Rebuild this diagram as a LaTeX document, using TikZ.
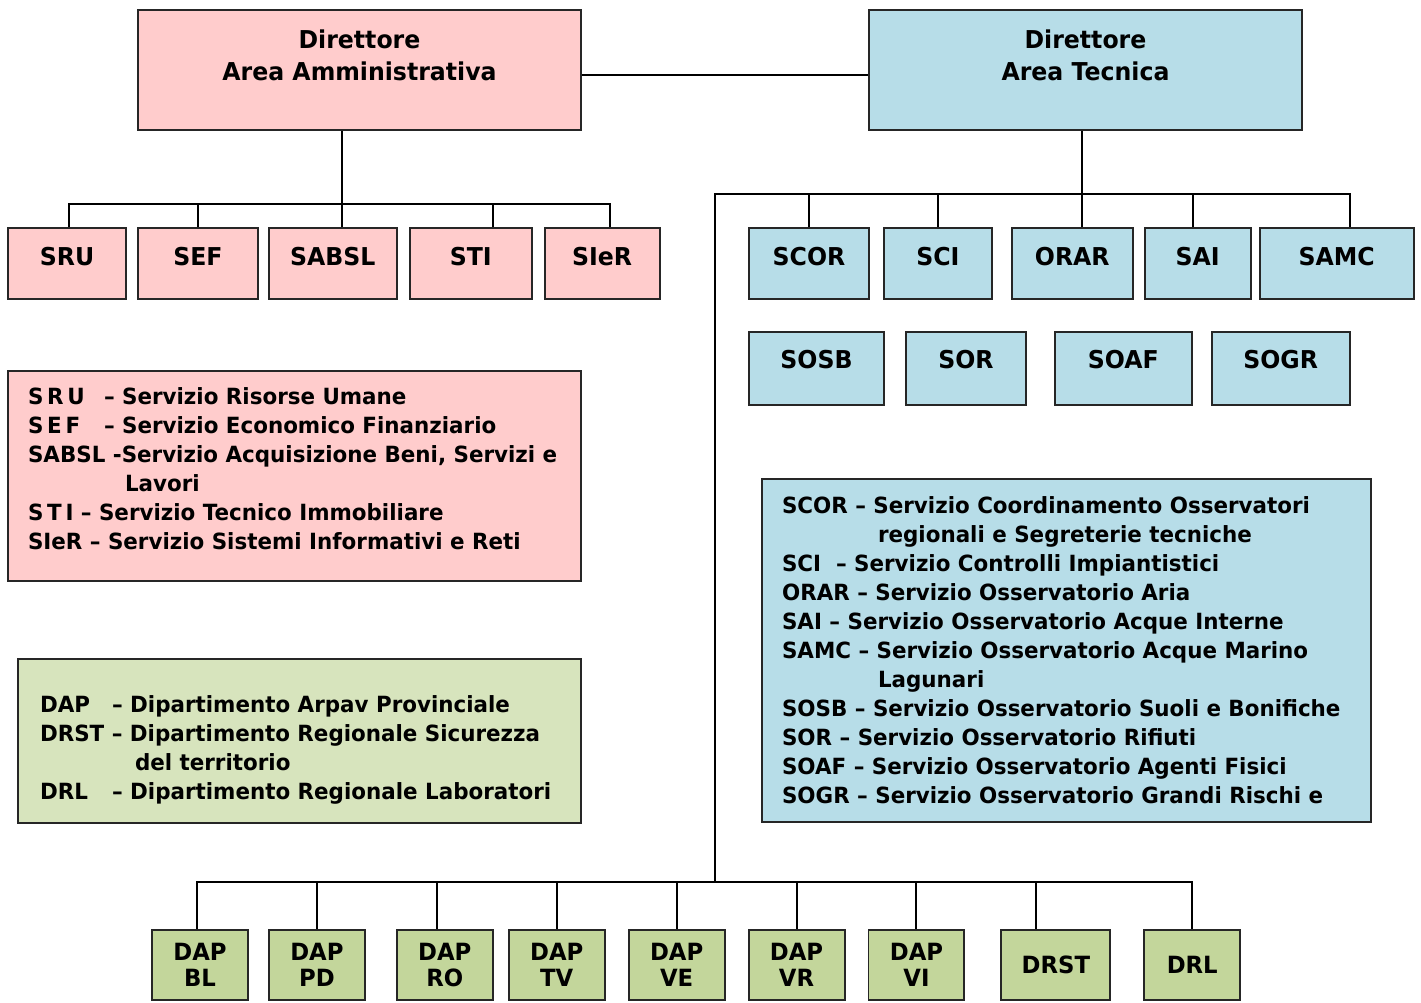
\documentclass[tikz,border=0pt]{standalone}
\usepackage{fontspec}
\setmainfont{DejaVu Sans}[FakeStretch=0.96]
\usetikzlibrary{positioning}

\definecolor{pinkfill}{RGB}{255,204,204}
\definecolor{bluefill}{RGB}{183,221,232}
\definecolor{greenfill}{RGB}{195,214,155}
\definecolor{greenlite}{RGB}{215,228,189}

\begin{document}
\begin{tikzpicture}[
  x=0.02cm, y=-0.02cm,
  every node/.style={font=\fontsize{14}{17}\selectfont\bfseries},
  box/.style={draw=black!85, line width=1.1pt, inner sep=0pt},
  unit/.style={box, minimum height=1.42cm, text height=0.4cm, text depth=0.34cm},
  unitlow/.style={box, minimum height=1.46cm, text height=0.4cm, text depth=0.42cm},
  dept/.style={box, fill=greenfill, minimum width=1.92cm, minimum height=1.4cm, align=center,
    font=\fontsize{13.5}{14.7}\selectfont\bfseries},
  legend/.style={box, align=left, font=\fontsize{12.7}{16.5}\selectfont\bfseries},
  dirlabel/.style={align=center, font=\fontsize{14}{18.1}\selectfont\bfseries},
  line width=1.1pt
]
\useasboundingbox (0,0) rectangle (1421,1002);

% Direttori
\node[box, fill=pinkfill, minimum width=8.86cm, minimum height=2.4cm] (dira) at (359.5,70) {};
\node[dirlabel] (diratxt) at (359.5,55) {Direttore\\Area Amministrativa};
\node[box, fill=bluefill, minimum width=8.66cm, minimum height=2.4cm] (dirt) at (1085.5,70) {};
\node[dirlabel] (dirttxt) at (1085.5,55) {Direttore\\Area Tecnica};

% Servizi area amministrativa
\node[unit, fill=pinkfill, minimum width=2.36cm] (sru) at (67,263.5) {SRU};
\node[unit, fill=pinkfill, minimum width=2.4cm, right=0.2cm of sru] (sef) {SEF};
\node[unit, fill=pinkfill, minimum width=2.56cm, right=0.18cm of sef] (sabsl) {SABSL};
\node[unit, fill=pinkfill, minimum width=2.44cm, right=0.22cm of sabsl] (sti) {STI};
\node[unit, fill=pinkfill, minimum width=2.3cm, right=0.22cm of sti] (sier) {SIeR};

% Servizi area tecnica
\node[unit, fill=bluefill, minimum width=2.4cm] (scor) at (809,263.5) {SCOR};
\node[unit, fill=bluefill, minimum width=2.16cm, right=0.26cm of scor] (sci) {SCI};
\node[unit, fill=bluefill, minimum width=2.42cm, right=0.36cm of sci] (orar) {ORAR};
\node[unit, fill=bluefill, minimum width=2.12cm, right=0.2cm of orar] (sai) {SAI};
\node[unit, fill=bluefill, minimum width=3.08cm, right=0.14cm of sai] (samc) {SAMC};

\node[unitlow, fill=bluefill, minimum width=2.7cm] (sosb) at (816.5,368.5) {SOSB};
\node[unitlow, fill=bluefill, minimum width=2.4cm, right=0.4cm of sosb] (sor) {SOR};
\node[unitlow, fill=bluefill, minimum width=2.74cm, right=0.54cm of sor] (soaf) {SOAF};
\node[unitlow, fill=bluefill, minimum width=2.76cm, right=0.36cm of soaf] (sogr) {SOGR};

% Legende
\node[legend, fill=pinkfill, minimum width=11.46cm, minimum height=4.2cm, text width=10.66cm] (legadm) at (294.5,476) {%
\makebox[1.52cm][l]{S\,R\,U}– Servizio Risorse Umane\\
\makebox[1.52cm][l]{S\,E\,F}– Servizio Economico Finanziario\\
SABSL -Servizio Acquisizione Beni, Servizi e\\
\hspace*{1.94cm}Lavori\\
S\,T\,I – Servizio Tecnico Immobiliare\\
SIeR – Servizio Sistemi Informativi e Reti\rule[-0.3cm]{0pt}{0pt}};

\node[legend, fill=greenlite, minimum width=11.26cm, minimum height=3.28cm, text width=10.38cm] (legdip) at (299.5,741) {%
\rule{0pt}{0.7cm}\makebox[1.44cm][l]{DAP}– Dipartimento Arpav Provinciale\\
DRST – Dipartimento Regionale Sicurezza\\
\hspace*{1.9cm}del territorio\\
\makebox[1.44cm][l]{DRL}– Dipartimento Regionale Laboratori};

\node[legend, fill=bluefill, minimum width=12.18cm, minimum height=6.86cm, text width=11.38cm] (legtec) at (1066.5,650.5) {%
SCOR – Servizio Coordinamento Osservatori\\
\hspace*{1.92cm}regionali e Segreterie tecniche\\
SCI\ \ – Servizio Controlli Impiantistici\\
ORAR – Servizio Osservatorio Aria\\
SAI – Servizio Osservatorio Acque Interne\\
SAMC – Servizio Osservatorio Acque Marino\\
\hspace*{1.92cm}Lagunari\\
SOSB – Servizio Osservatorio Suoli e Bonifiche\\
SOR – Servizio Osservatorio Rifiuti\\
SOAF – Servizio Osservatorio Agenti Fisici\\
SOGR – Servizio Osservatorio Grandi Rischi e};

% Dipartimenti
\node[dept] (bl) at (200,965) {DAP\\BL};
\node[dept, right=0.38cm of bl] (pd) {DAP\\PD};
\node[dept, right=0.6cm of pd] (ro) {DAP\\RO};
\node[dept, right=0.28cm of ro] (tv) {DAP\\TV};
\node[dept, right=0.44cm of tv] (ve) {DAP\\VE};
\node[dept, right=0.44cm of ve] (vr) {DAP\\VR};
\node[dept, right=0.44cm of vr] (vi) {DAP\\VI};
\node[dept, minimum width=2.18cm, right=0.7cm of vi] (drst) {DRST};
\node[dept, right=0.64cm of drst] (drl) {DRL};

% Collegamenti
\coordinate (jadm) at (342,204);
\coordinate (jtec) at (1082,194);
\coordinate (jdip) at (715,882);

\draw ([yshift=-0.1cm]dira.east) -- ([yshift=-0.1cm]dirt.west);

\draw (dira.south -| jadm) -- (jadm);
\draw (jadm) -| ([xshift=0.04cm]sru.north);
\draw (jadm) -| (sef.north);
\draw (jadm) -- (jadm |- sabsl.north);
\draw (jadm) -| ([xshift=0.44cm]sti.north);
\draw (jadm) -| ([xshift=0.15cm]sier.north);

\draw (dirt.south -| jtec) -- (jtec);
\draw (jtec) -| (scor.north);
\draw (jtec) -| (sci.north);
\draw (jtec) -- (jtec |- orar.north);
\draw (jtec) -| ([xshift=-0.1cm]sai.north);
\draw (jtec) -| ([xshift=0.26cm]samc.north);
\draw (jtec) -| (jdip);

\draw (jdip) -| ([xshift=-0.06cm]bl.north);
\draw (jdip) -| (pd.north);
\draw (jdip) -| ([xshift=-0.16cm]ro.north);
\draw (jdip) -| (tv.north);
\draw (jdip) -| (ve.north);
\draw (jdip) -| (vr.north);
\draw (jdip) -| (vi.north);
\draw (jdip) -| ([xshift=-0.39cm]drst.north);
\draw (jdip) -| (drl.north);
\end{tikzpicture}
\end{document}
